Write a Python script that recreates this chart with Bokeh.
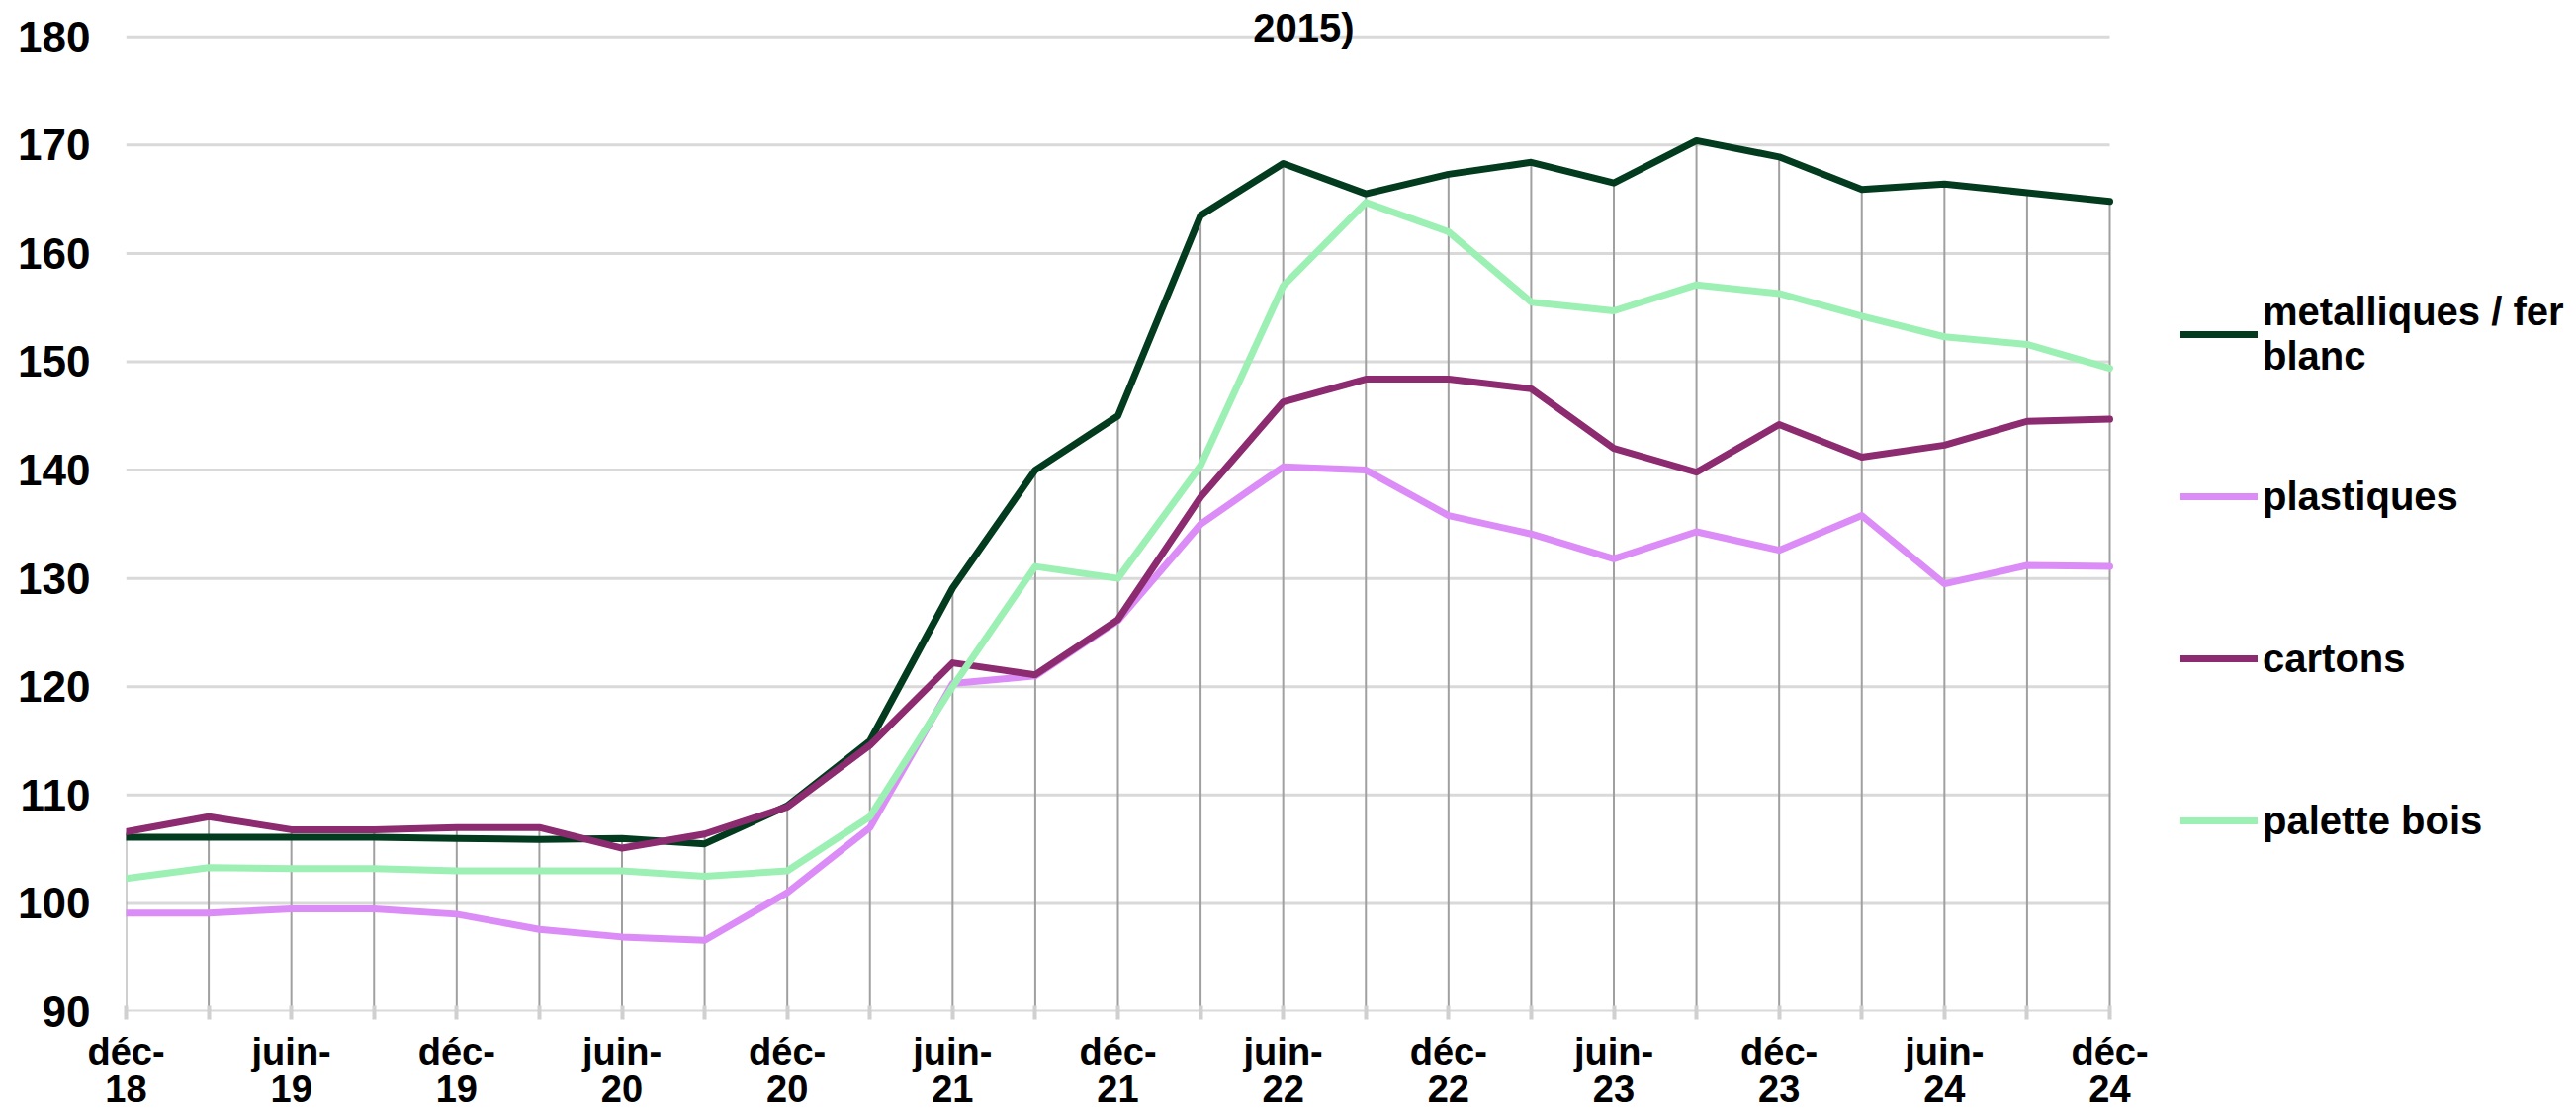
from bokeh.plotting import figure
from bokeh.models import (ColumnDataSource, Range1d, FixedTicker, Legend, LegendItem, Label)
from bokeh.embed import file_html
from bokeh.resources import INLINE

# ---- data -------------------------------------------------------------
periods = ["déc-18", "mars-19", "juin-19", "sept-19", "déc-19", "mars-20", "juin-20",
           "sept-20", "déc-20", "mars-21", "juin-21", "sept-21", "déc-21", "mars-22",
           "juin-22", "sept-22", "déc-22", "mars-23", "juin-23", "sept-23", "déc-23",
           "mars-24", "juin-24", "sept-24", "déc-24"]
tick_labels = ["déc-\n18", "", "juin-\n19", "", "déc-\n19", "", "juin-\n20", "",
               "déc-\n20", "", "juin-\n21", "", "déc-\n21", "", "juin-\n22", "",
               "déc-\n22", "", "juin-\n23", "", "déc-\n23", "", "juin-\n24", "", "déc-\n24"]

metalliques = [106.1, 106.1, 106.1, 106.1, 106.0, 105.9, 106.0, 105.5, 109.0, 115.0,
               129.1, 140.0, 145.0, 163.5, 168.3, 165.5, 167.3, 168.4, 166.5, 170.4,
               168.9, 165.9, 166.4, 165.6, 164.8]
plastiques = [99.1, 99.1, 99.5, 99.5, 99.0, 97.6, 96.9, 96.6, 101.0, 107.0,
              120.3, 121.0, 126.1, 135.0, 140.3, 140.0, 135.8, 134.1, 131.8, 134.3,
              132.6, 135.8, 129.5, 131.2, 131.1]
cartons = [106.6, 108.0, 106.8, 106.8, 107.0, 107.0, 105.1, 106.4, 108.9, 114.6,
           122.2, 121.1, 126.2, 137.5, 146.3, 148.4, 148.4, 147.5, 142.0, 139.8,
           144.2, 141.2, 142.3, 144.5, 144.7]
palette_bois = [102.3, 103.3, 103.2, 103.2, 103.0, 103.0, 103.0, 102.5, 103.0, 108.0,
                120.0, 131.1, 130.0, 140.4, 157.0, 164.7, 162.0, 155.5, 154.7, 157.1,
                156.3, 154.2, 152.3, 151.6, 149.4]

series_names = ["metalliques / fer\nblanc", "plastiques", "cartons", "palette bois"]
series_colors = ["#033b1f", "#dc8cf7", "#8c2b6f", "#9cf0b4"]
y_ticks = [90, 100, 110, 120, 130, 140, 150, 160, 170, 180]
title_text = "2015)"

# ---- figure -----------------------------------------------------------
FONT = "Liberation Sans"
idx = list(range(len(periods)))
last = idx[-1]
src = ColumnDataSource(dict(
    x=idx, metalliques=metalliques, plastiques=plastiques, cartons=cartons,
    palette_bois=palette_bois,
    top=[max(a, b, c, d) for a, b, c, d in zip(metalliques, plastiques, cartons, palette_bois)],
    base=[y_ticks[0]] * len(idx),
))
grid_src = ColumnDataSource(dict(x0=[idx[0]] * len(y_ticks), x1=[last] * len(y_ticks),
                                 y=y_ticks,
                                 w=[4] + [3] * (len(y_ticks) - 1)))

W, H = 2600, 1126
LEFT, BOTTOM = 127, 101
PLOT_W = 2006            # pixel width of the category span
frame_w = W - LEFT
x_end = last * frame_w / PLOT_W

p = figure(width=W, height=H, output_backend="svg", toolbar_location=None,
           x_range=Range1d(0, x_end), y_range=Range1d(90, 183.35),
           min_border_left=LEFT, min_border_right=0, min_border_top=0,
           min_border_bottom=BOTTOM)
p.outline_line_color = None
p.background_fill_color = "white"
p.xgrid.grid_line_color = None
p.ygrid.grid_line_color = None

# horizontal grid (and base line) limited to the category span
p.segment(x0="x0", y0="y", x1="x1", y1="y", source=grid_src,
          line_color="#d9d9d9", line_width="w")

# y axis
p.yaxis.ticker = FixedTicker(ticks=y_ticks)
p.yaxis.axis_line_color = None
p.yaxis.major_tick_line_color = None
p.yaxis.minor_tick_line_color = None
p.yaxis.major_label_standoff = 30
p.yaxis.major_label_text_font = FONT
p.yaxis.major_label_text_font_style = "bold"
p.yaxis.major_label_text_font_size = "44px"
p.yaxis.major_label_text_color = "black"

# x axis
p.xaxis.ticker = FixedTicker(ticks=idx)
p.xaxis.major_label_overrides = {i: lab for i, lab in zip(idx, tick_labels)}
p.xaxis.axis_line_color = None
p.xaxis.major_tick_line_color = "#d0d0d0"
p.xaxis.major_tick_line_width = 4
p.xaxis.major_tick_in = 6
p.xaxis.major_tick_out = 8
p.xaxis.minor_tick_line_color = None
p.xaxis.major_label_standoff = 11
p.xaxis.major_label_text_font = FONT
p.xaxis.major_label_text_font_style = "bold"
p.xaxis.major_label_text_font_size = "38px"
p.xaxis.major_label_text_line_height = 0.92
p.xaxis.major_label_text_color = "black"

# drop lines
p.segment(x0="x", y0="base", x1="x", y1="top", source=src,
          line_color="#a0a0a0", line_width=2)

renderers = []
for col, color in zip(["metalliques", "plastiques", "cartons", "palette_bois"], series_colors):
    r = p.line("x", col, source=src, line_color=color, line_width=7,
               line_join="round", line_cap="round")
    renderers.append(r)

legend = Legend(items=[LegendItem(label=n, renderers=[r]) for n, r in zip(series_names, renderers)],
                location=(2078, 148))
legend.border_line_color = None
legend.background_fill_alpha = 0
legend.padding = 0
legend.margin = 0
legend.glyph_width = 78
legend.glyph_height = 10
legend.label_height = 90
legend.spacing = 74
legend.label_standoff = 5
legend.label_text_font = FONT
legend.label_text_font_style = "bold"
legend.label_text_font_size = "40px"
legend.label_text_color = "black"
legend.label_text_line_height = 1.05
p.add_layout(legend, "center")

title = Label(x=1191, y=996, x_units="screen", y_units="screen", text=title_text,
              text_align="center", text_baseline="alphabetic",
              text_font=FONT, text_font_style="bold", text_font_size="40px",
              text_color="black")
p.add_layout(title)

open("out.html", "w").write(file_html(p, INLINE))
